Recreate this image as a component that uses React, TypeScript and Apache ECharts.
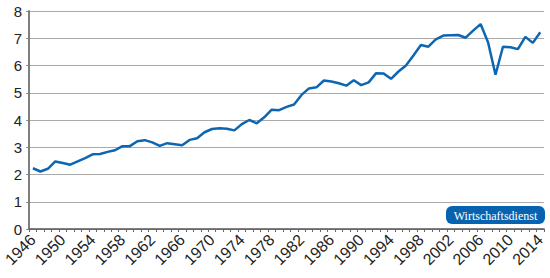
import React, { useEffect, useRef } from "react";
import * as echarts from "echarts";

const years: string[] = [];
for (let y = 1946; y <= 2014; y++) years.push(String(y));

const values = [
  2.23, 2.11, 2.21, 2.48, 2.42, 2.36, 2.48, 2.6, 2.74, 2.75,
  2.83, 2.89, 3.04, 3.04, 3.22, 3.26, 3.18, 3.05, 3.15, 3.11,
  3.07, 3.27, 3.33, 3.55, 3.67, 3.7, 3.68, 3.62, 3.85, 4.0,
  3.88, 4.1, 4.38, 4.36, 4.48, 4.57, 4.92, 5.16, 5.2, 5.45,
  5.41, 5.35, 5.26, 5.46, 5.28, 5.38, 5.72, 5.71, 5.51, 5.78,
  6.0, 6.37, 6.75, 6.69, 6.96, 7.1, 7.11, 7.12, 7.02, 7.28,
  7.52, 6.85, 5.66, 6.69, 6.67, 6.6, 7.05, 6.83, 7.22,
];

const yTicks = [0, 8, 1];
const badgeText = "Wirtschaftsdienst";

export default function App() {
  const ref = useRef<HTMLDivElement>(null);
  useEffect(() => {
    if (!ref.current) return;
    const chart = echarts.init(ref.current, null, { renderer: "svg" });
    chart.setOption({
      animation: false,
      grid: { left: 26, right: 6, top: 11, bottom: 49, containLabel: false },
      xAxis: {
        type: "category",
        data: years,
        boundaryGap: true,
        axisLine: { lineStyle: { color: "#555", width: 1.5 } },
        axisTick: { show: true, interval: 0, length: 3, lineStyle: { color: "#666" } },
        axisLabel: {
          interval: 3,
          rotate: 45,
          fontSize: 16,
          color: "#222",
          fontFamily: "Liberation Sans, Arial, sans-serif",
          margin: 8,
        },
        splitLine: { show: false },
      },
      yAxis: {
        type: "value",
        min: yTicks[0],
        max: yTicks[1],
        interval: yTicks[2],
        axisLine: { show: true, lineStyle: { color: "#808080", width: 2 } },
        axisTick: { show: true, length: 3, lineStyle: { color: "#808080" } },
        axisLabel: {
          fontSize: 15,
          color: "#222",
          fontFamily: "Liberation Sans, Arial, sans-serif",
          margin: 7,
        },
        splitLine: { show: true, lineStyle: { color: "#aaaaaa", width: 1 } },
      },
      series: [
        {
          type: "line",
          data: values,
          symbol: "none",
          lineStyle: { color: "#0d66b1", width: 2.5 },
        },
      ],
      graphic: [
        {
          type: "group",
          right: 5,
          top: 206,
          children: [
            {
              type: "rect",
              shape: { x: 0, y: 0, width: 99, height: 18, r: 6 },
              style: { fill: "#0763b0" },
            },
            {
              type: "text",
              x: 49.5,
              y: 9.5,
              style: {
                text: badgeText,
                fill: "#ffffff",
                font: "12px 'Liberation Serif', 'DejaVu Serif', serif",
                textAlign: "center",
                textVerticalAlign: "middle",
              },
            },
          ],
        },
      ],
    });
    return () => chart.dispose();
  }, []);
  return <div ref={ref} style={{ width: 550, height: 278, position: "absolute", left: 0, top: 0 }} />;
}
